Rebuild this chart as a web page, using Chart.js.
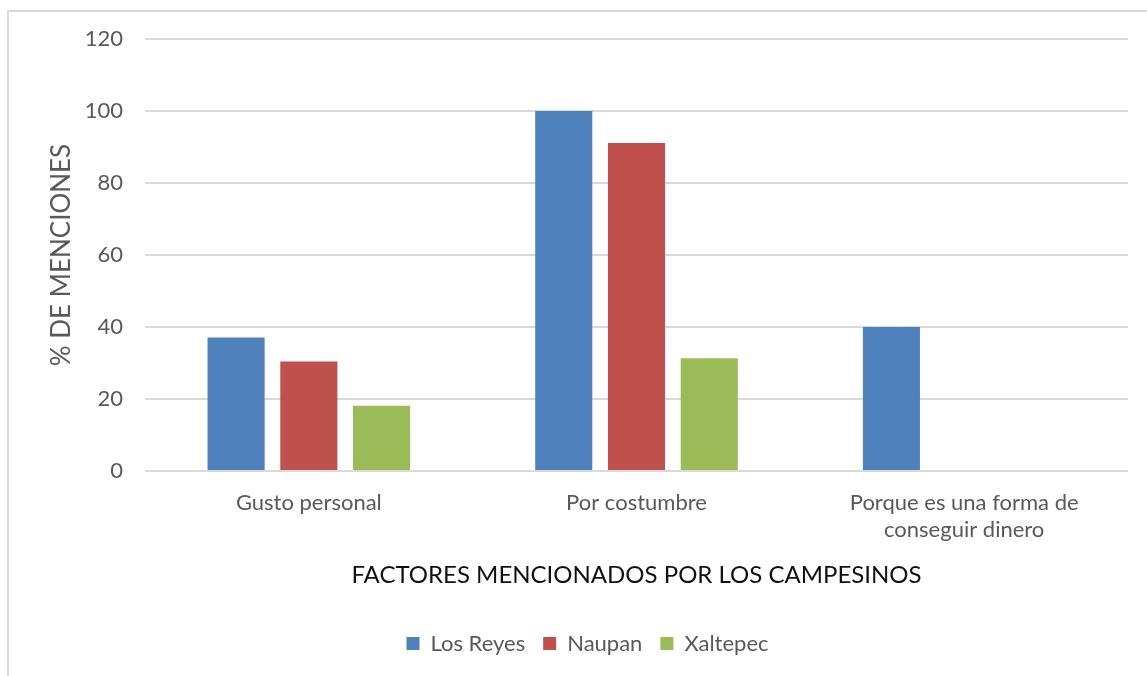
<!DOCTYPE html>
<html>
<head>
<meta charset="utf-8">
<script src="https://cdn.jsdelivr.net/npm/chart.js@4.4.0/dist/chart.umd.min.js"></script>
<style>
  html, body { margin: 0; padding: 0; background: #fff; overflow: hidden; }
  #frame { position: absolute; left: 7px; top: 10px; width: 1200px; height: 720px; border: 2px solid #d9d9d9; }
  #wrap { position: absolute; left: 0; top: 0; width: 1147px; height: 676px; }
</style>
</head>
<body>
<div id="frame"></div>
<div id="wrap"><canvas id="chart" width="1147" height="676"></canvas></div>
<script>
// factores y porcentaje de menciones por comunidad
const categories = ['Gusto personal', 'Por costumbre', ['Porque es una forma de', 'conseguir dinero']];
const losReyes = [37.1, 100, 40];
const naupan = [30.4, 91.1, 0];
const xaltepec = [18.1, 31.3, 0];
const yMin = 0;
const yMax = 120;
const yStep = 20;

const FONT = 'Lato, "Liberation Sans", sans-serif';
const GRAY = '#595959';

// corre un poco la leyenda hacia la derecha
const legendShift = {
    id: 'legendShift',
    afterLayout(chart) {
        if (chart.legend) {
            chart.legend.left += 13.5;
            chart.legend.right += 13.5;
        }
    }
};

const ctx = document.getElementById('chart').getContext('2d');
new Chart(ctx, {
    type: 'bar',
    data: {
        labels: categories,
        datasets: [
            { label: 'Los Reyes', data: losReyes, backgroundColor: '#4F81BD' },
            { label: 'Naupan', data: naupan, backgroundColor: '#C0504D' },
            { label: 'Xaltepec', data: xaltepec, backgroundColor: '#9BBB59' }
        ]
    },
    plugins: [legendShift],
    options: {
        responsive: false,
        animation: false,
        categoryPercentage: 0.666,
        barPercentage: 0.785,
        layout: { padding: { left: 20, right: 19, top: 39, bottom: 11.5 } },
        plugins: {
            tooltip: { enabled: false },
            legend: {
                position: 'bottom',
                labels: {
                    boxWidth: 13,
                    boxHeight: 13,
                    padding: 18,
                    color: GRAY,
                    font: { family: FONT, size: 22 }
                }
            }
        },
        scales: {
            x: {
                grid: { display: false, drawTicks: false },
                border: { display: false },
                ticks: {
                    color: GRAY,
                    padding: 18,
                    maxRotation: 0,
                    font: { family: FONT, size: 22, lineHeight: 1.25 }
                },
                title: {
                    display: true,
                    text: 'FACTORES MENCIONADOS POR LOS CAMPESINOS',
                    color: '#111',
                    padding: { top: 0, bottom: 25 },
                    font: { family: FONT, size: 24, lineHeight: 1.2 }
                },
                afterFit: function(scale) { scale.height = 143.5; }
            },
            y: {
                min: yMin,
                max: yMax,
                grid: { color: '#d9d9d9', lineWidth: 2, drawTicks: false },
                border: { display: false },
                ticks: {
                    stepSize: yStep,
                    color: GRAY,
                    padding: 22,
                    font: { family: FONT, size: 22 }
                },
                title: {
                    display: true,
                    text: '% DE MENCIONES',
                    color: GRAY,
                    padding: { top: 26, bottom: 0 },
                    font: { family: FONT, size: 26, lineHeight: 1.2 }
                },
                afterFit: function(scale) { scale.width = 125; }
            }
        }
    }
});
</script>
</body>
</html>
